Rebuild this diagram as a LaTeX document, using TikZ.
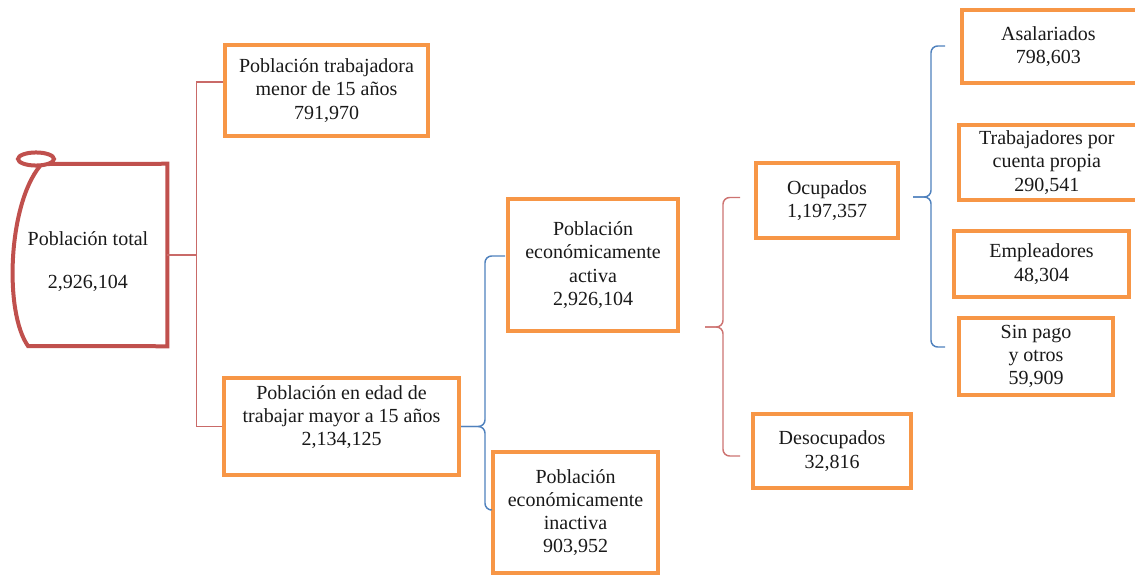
\documentclass[tikz,border=0pt]{standalone}
\usepackage{fontspec}
\setmainfont{Liberation Serif}
\usetikzlibrary{calc}
\definecolor{boxorange}{HTML}{F79646}
\definecolor{scrollred}{HTML}{C0504D}
\definecolor{linkblue}{HTML}{4F81BD}
\begin{document}
\begin{tikzpicture}[x=0.75pt,y=-0.75pt,
  every node/.style={font=\fontsize{15}{17.4}\selectfont, text=black!90},
  sz/.style 2 args={minimum width=#1*0.75pt, minimum height=#2*0.75pt},
  obox/.style={draw=boxorange, line width=3pt, align=center, inner sep=0pt},
  scrollpen/.style={draw=scrollred, line width=3pt, line join=miter},
  redlink/.style={draw=scrollred!85, line width=0.9pt},
  redbrace/.style={draw=scrollred!80, line width=1.1pt, rounded corners=5pt},
  bluebrace/.style={draw=linkblue, line width=1.1pt, rounded corners=5pt},
]
\useasboundingbox (0,0) rectangle (1135,575);
\clip (0,0) rectangle (1135,575);

% ---- total population (scroll shape) ----
\node[sz={149}{182},
  label={[name=totalt, align=center, xshift=-3.4pt, yshift=-4.9pt]center:{Población total\\[15pt]2,926,104}}]
  (total) at (92.5,255) {};
\draw[scrollpen] (48,164) -- (total.north east) -- (total.south east) -- (28,346)
  .. controls (4,312) and (8,205) .. (40,166);
\draw[scrollpen] (36,159) ellipse [x radius=13.5pt, y radius=4.9pt];

% ---- first split ----
\node[obox, sz={203}{91}] (b1) at (326.5,90.5)
  {Población trabajadora\\menor de 15 años\\791,970};
\node[obox, sz={235}{97},
  label={[name=b2t, align=center, yshift=7.1pt]center:{Población en edad de\\trabajar mayor a 15 años\\2,134,125}}]
  (b2) at (341.5,426.5) {};

\draw[redlink] (total.east) -- ++(29,0);
\draw[redlink] ($(b1.west)+(0,-8.5)$) -| ($(total.east)+(29,0)$) |- (b2.west);

% ---- active / inactive ----
\node[obox, sz={170}{132}] (pea) at (593,265)
  {Población\\económicamente\\activa\\2,926,104};
\node[obox, sz={165}{121}] (pei) at (575.5,512.5)
  {Población\\económicamente\\inactiva\\903,952};

\draw[bluebrace] ($(pea.west)+(-1,-9)$) -| ($(b2.east)+(24,0)$) -- (b2.east);
\draw[bluebrace] (b2.east) -- ++(24,0) |- ($(pei.west)+(-1,-2.5)$);

% ---- employed / unemployed ----
\node[obox, sz={142}{75}] (ocu) at (827,200.5) {Ocupados\\1,197,357};
\node[obox, sz={158}{74}] (des) at (832,451) {Desocupados\\32,816};

\coordinate (rbtip) at (705,327);
\coordinate (rbtop) at ($(ocu.west)+(-14,-3)$);
\coordinate (rbbot) at ($(des.west)+(-11,5)$);
\draw[redbrace] (rbtop) -| ($(rbtip)+(18,0)$) -- (rbtip);
\draw[redbrace] (rbtip) -- ++(18,0) |- (rbbot);

% ---- kinds of employment ----
\node[obox, sz={178}{73}] (asa) at (1051,46.5) {\hspace*{-4pt}Asalariados\\\hspace*{-4pt}798,603};
\node[obox, sz={181}{75}] (tra) at (1049.5,162.5) {\hspace*{-4pt}Trabajadores por\\\hspace*{-4pt}cuenta propia\\\hspace*{-4pt}290,541};
\node[obox, sz={175}{66}] (emp) at (1041.5,264) {Empleadores\\48,304};
\node[obox, sz={154}{77}] (sin) at (1036,356.5) {Sin pago\\y otros\\59,909};

\coordinate (bbtip) at ($(ocu.east)+(13,-3.5)$);
\coordinate (bbtop) at ($(asa.west)+(-15,-0.5)$);
\coordinate (bbbot) at ($(sin.west)+(-12,-9.5)$);
\draw[bluebrace] (bbtop) -| ($(bbtip)+(18,0)$) -- (bbtip);
\draw[bluebrace] (bbtip) -- ++(18,0) |- (bbbot);
\end{tikzpicture}
\end{document}
